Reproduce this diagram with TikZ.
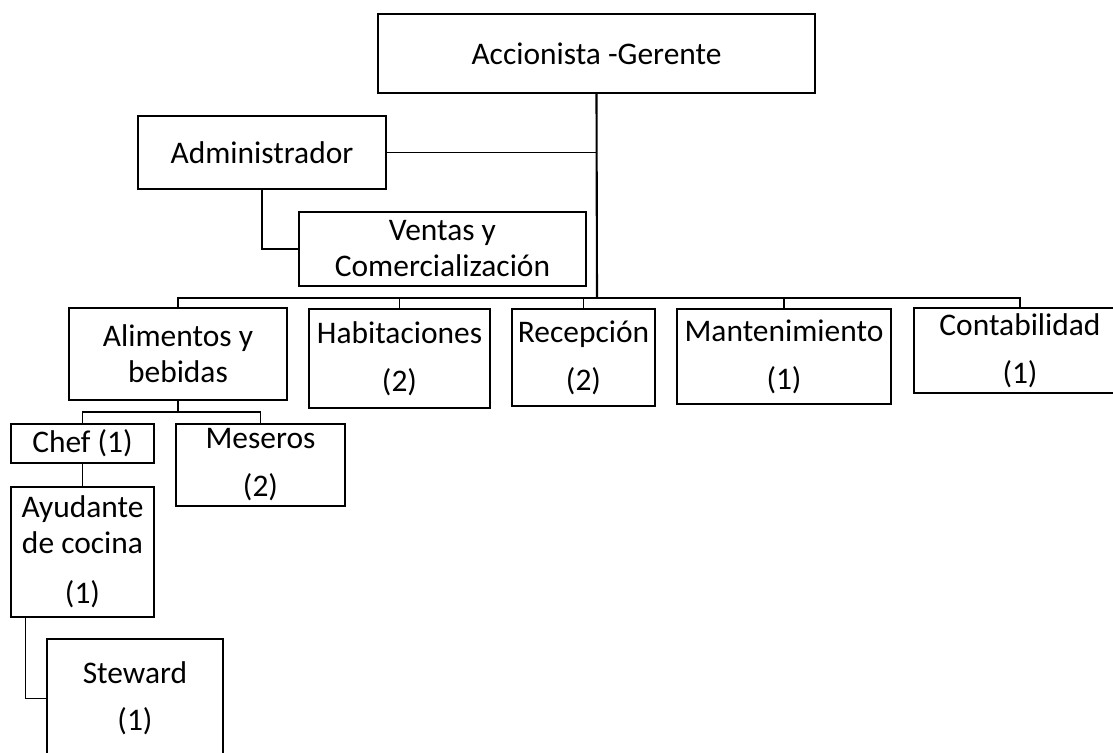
\documentclass[tikz,border=0pt]{standalone}
\usepackage{fontspec}
\setmainfont{Carlito}
\usepackage{tikz}
\usetikzlibrary{positioning,calc}
\tikzset{
  unit/.style={rectangle,draw=black,line width=0.9pt,fill=white,inner sep=0pt,align=center,font=\fontsize{17.9pt}{20.5pt}\selectfont},
  link/.style={draw=black,line width=0.6pt},
  trunk/.style={draw=black,line width=1.2pt},
}

\begin{document}
\begin{tikzpicture}[x=0.02cm,y=-0.02cm]
  \useasboundingbox (0,0) rectangle (1113,753);
  % Top level
  \node[unit, minimum width=8.74cm, minimum height=1.58cm] (gerente) at (596.5,53.5) {Accionista -Gerente};
  \node[unit, minimum width=4.96cm, minimum height=1.46cm] (admin) at (262,152.5) {Administrador};
  \node[unit, minimum width=5.74cm, minimum height=1.48cm] (ventas) at (442.5,249) {Ventas y\\Comercialización};

  % Departments
  \node[unit, minimum width=4.36cm, minimum height=1.84cm] (alimentos) at (178,354) {Alimentos y\\bebidas};
  \node[unit, minimum width=3.62cm, minimum height=1.98cm] (habit) at (399.5,358.5) {Habitaciones\\[0.24cm](2)};
  \node[unit, minimum width=2.86cm, minimum height=1.94cm] (recep) at (583.5,357.5) {Recepción\\[0.24cm](2)};
  \node[unit, minimum width=4.28cm, minimum height=1.90cm] (mant) at (784,356.5) {Mantenimiento\\[0.24cm](1)};
  \node[unit, minimum width=4.24cm, minimum height=1.70cm] (conta) at (1020,350.5) {Contabilidad\\[0.24cm](1)};

  % Kitchen and service staff
  \node[unit, minimum width=2.86cm, minimum height=0.78cm] (chef) at (82.5,443.5) {Chef (1)};
  \node[unit, minimum width=3.38cm, minimum height=1.64cm] (meseros) at (260.5,465) {Meseros\\[0.24cm](2)};
  \node[unit, minimum width=2.86cm, minimum height=2.60cm] (ayudante) at (82.5,552) {Ayudante\\de cocina\\[0.28cm](1)};
  \node[unit, minimum width=3.52cm, minimum height=2.38cm] (steward) at (135,698.5) {Steward\\[0.22cm](1)};

  \coordinate (bus) at (597,298);
  \coordinate (fork) at (178,412);

  % Connectors
  \draw[trunk] (gerente.south) -- (bus);
  \draw[link] (admin.east) -- (admin.east -| gerente.south);
  \draw[link] (admin.south) |- (ventas.west);
  \draw[link] (bus) -| (alimentos.north);
  \draw[link] (bus) -| (habit.north);
  \draw[link] (bus) -| (recep.north);
  \draw[link] (bus) -| (mant.north);
  \draw[link] (bus) -| (conta.north);
  \draw[link] (alimentos.south) -- (fork);
  \draw[link] (fork) -| (chef.north);
  \draw[link] (fork) -| (meseros.north);
  \draw[link] (chef.south) -- (ayudante.north);
  \draw[link] ([xshift=0.3cm]ayudante.south west) |- (steward.west);
\end{tikzpicture}
\end{document}
